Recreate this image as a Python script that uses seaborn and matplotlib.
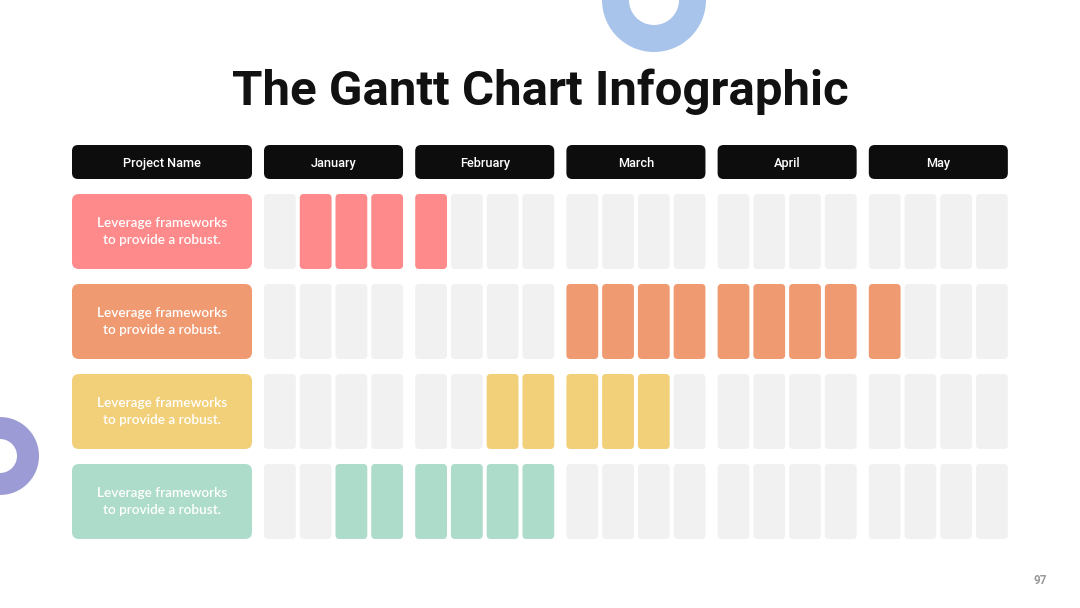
import matplotlib.pyplot as plt
import seaborn as sns
from matplotlib.patches import FancyBboxPatch, Wedge

# data
months = ['January', 'February', 'March', 'April', 'May']
weeks_per_month = 4
projects = ['Leverage frameworks\nto provide a robust.'] * 4
start_week = [1, 8, 6, 2]   # 0-based week index across Jan..May
end_week = [4, 16, 10, 7]   # inclusive
colors = ['#FE8A8B', '#F09A72', '#F2D07A', '#AEDCCB']

sns.set_theme(style='white')
plt.rcParams['font.family'] = ['Roboto', 'DejaVu Sans']

fig = plt.figure(figsize=(10.8, 6.08), dpi=100)
ax = fig.add_axes([0, 0, 1, 1])
ax.set_xlim(0, 1080)
ax.set_ylim(608, 0)
ax.axis('off')

# decorative rings
ax.add_patch(Wedge((654, 0), 52, 0, 360, width=27, color='#A9C4EA', lw=0))
ax.add_patch(Wedge((0, 456), 39, 0, 360, width=22, color='#9C9BD6', lw=0))

ax.text(540, 105, 'The Gantt Chart Infographic', ha='center', va='baseline',
        fontsize=35.5, fontweight='bold', color='#111111')

# layout
name_x0, name_w = 72, 180
grid_x0 = 264
month_pitch = 151.2
cell_w, cell_pitch = 31.8, 35.75
head_y0, head_h = 145, 34
row_y0, row_pitch, row_h = 194, 90, 75


def rbox(x, y, w, h, color, r):
    ax.add_patch(FancyBboxPatch((x, y), w, h,
                                boxstyle=f'round,pad=0,rounding_size={r}',
                                fc=color, ec='none'))


# header
rbox(name_x0, head_y0, name_w, head_h, '#0D0D0D', 6)
ax.text(name_x0 + name_w / 2, 167, 'Project Name',
        ha='center', va='baseline', color='white', fontsize=9.2, fontweight='medium')
month_w = weeks_per_month * cell_pitch - (cell_pitch - cell_w)
for m, name in enumerate(months):
    x = grid_x0 + m * month_pitch
    rbox(x, head_y0, month_w, head_h, '#0D0D0D', 6)
    ax.text(x + month_w / 2, 167, name,
            ha='center', va='baseline', color='white', fontsize=9.2, fontweight='medium')

# rows
n_weeks = len(months) * weeks_per_month
for i, (label, s, e, c) in enumerate(zip(projects, start_week, end_week, colors)):
    y = row_y0 + i * row_pitch
    rbox(name_x0, y, name_w, row_h, c, 7)
    ax.text(name_x0 + name_w / 2, y + row_h / 2, label, ha='center', va='center',
            color='white', fontsize=9.8, fontweight='semibold',
            family=['Lato', 'DejaVu Sans'], linespacing=1.5)
    for w in range(n_weeks):
        m, k = divmod(w, weeks_per_month)
        x = grid_x0 + m * month_pitch + k * cell_pitch
        fc = c if s <= w <= e else '#F1F1F1'
        rbox(x, y, cell_w, row_h, fc, 4)

ax.text(1040, 581, '97', ha='center', va='center', fontsize=8.5,
        color='#9A9A9A', fontweight='bold')

fig.savefig('out.png', dpi=100)
